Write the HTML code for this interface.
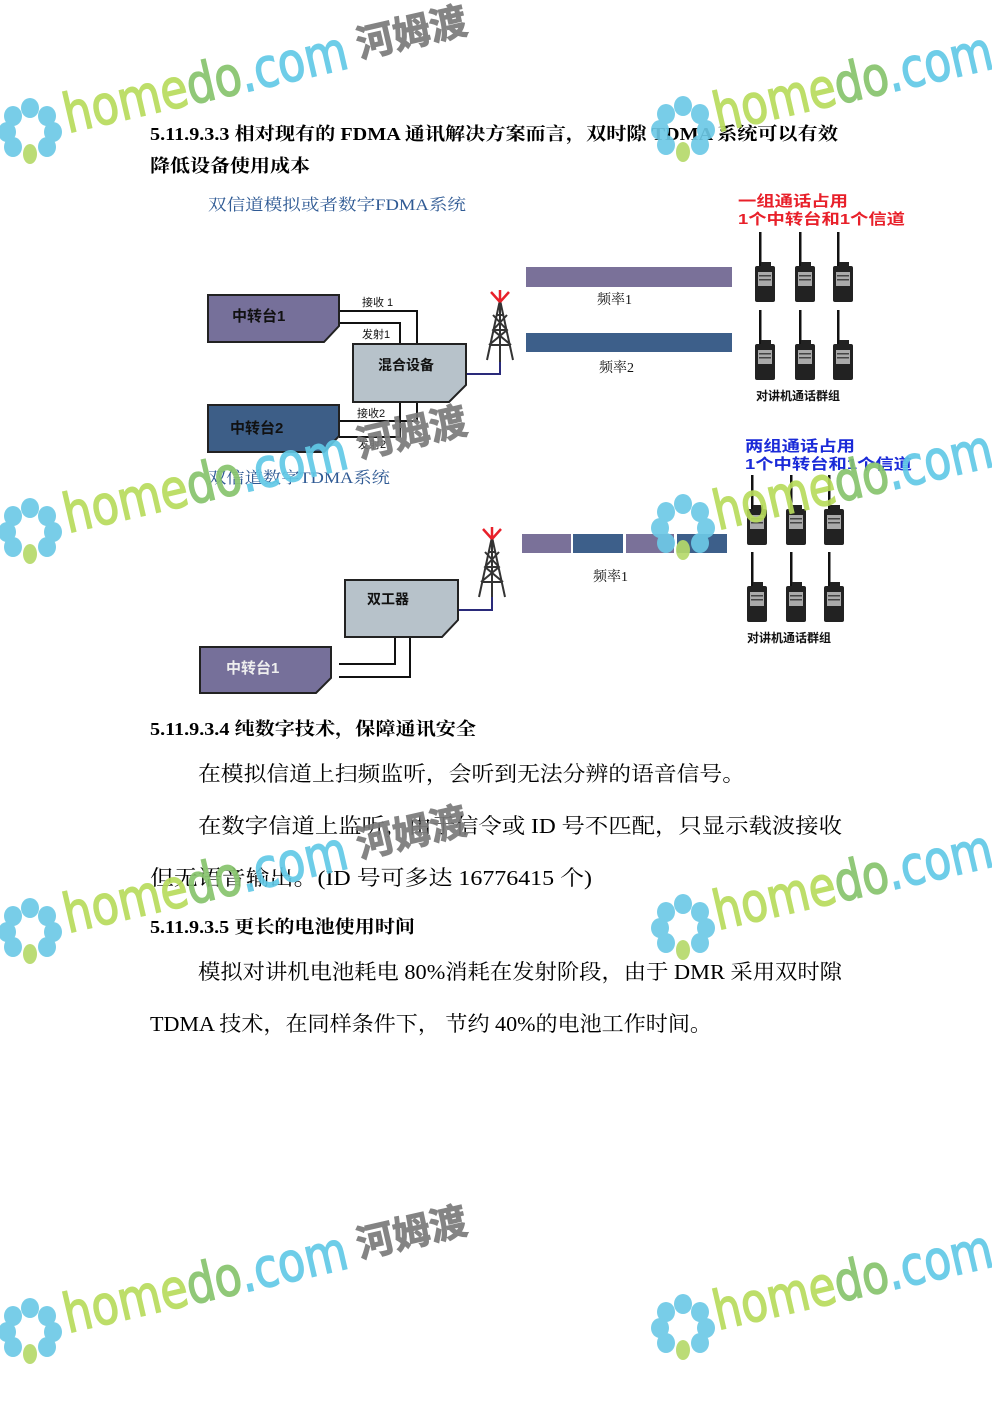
<!DOCTYPE html>
<html><head><meta charset="utf-8"><style>
html,body{margin:0;padding:0;background:#fff;}
svg{display:block;}
.b{font-family:"Liberation Serif","Noto Serif CJK SC",serif;}
.s{font-family:"Liberation Sans","Noto Sans CJK SC",sans-serif;}
</style></head><body>
<svg width="992" height="1403" viewBox="0 0 992 1403" xmlns="http://www.w3.org/2000/svg">
<defs>
<g id="wt">
<rect x="-1" y="0" width="2.5" height="36" fill="#111"/>
<rect x="-5" y="34" width="20" height="36" rx="2" fill="#222"/>
<rect x="1" y="30" width="10" height="6" fill="#222"/>
<rect x="-2" y="40" width="14" height="14" fill="#aaa"/>
<rect x="-1" y="43" width="12" height="1.5" fill="#444"/>
<rect x="-1" y="47" width="12" height="1.5" fill="#444"/>
</g>
<g id="fl">
<ellipse cx="0" cy="-22" rx="9" ry="10" fill="#6cc9e6"/>
<ellipse cx="17" cy="-14" rx="9" ry="10" fill="#6cc9e6"/>
<ellipse cx="23" cy="2" rx="9" ry="10" fill="#6cc9e6"/>
<ellipse cx="17" cy="17" rx="9" ry="10" fill="#6cc9e6"/>
<ellipse cx="-17" cy="-14" rx="9" ry="10" fill="#6cc9e6"/>
<ellipse cx="-23" cy="2" rx="9" ry="10" fill="#6cc9e6"/>
<ellipse cx="-17" cy="17" rx="9" ry="10" fill="#6cc9e6"/>
<ellipse cx="0" cy="24" rx="7" ry="10" fill="#b5d96a"/>
</g>
<g id="wm">
<use href="#fl" x="30" y="130"/>
<g transform="translate(68,133) rotate(-13)">
<text x="0" y="0" font-family="DejaVu Sans,sans-serif" font-size="54" stroke-width="1.5" textLength="290" lengthAdjust="spacingAndGlyphs"><tspan fill="#b8dc5c" stroke="#b8dc5c">home</tspan><tspan fill="#86c36c" stroke="#86c36c">do</tspan><tspan fill="#62c9e6" stroke="#62c9e6">.com</tspan></text>
</g>
</g>
<g id="wm2">
<use href="#fl" x="683" y="128"/>
<g transform="translate(718,132) rotate(-13)">
<text x="0" y="0" font-family="DejaVu Sans,sans-serif" font-size="54" stroke-width="1.5" textLength="285" lengthAdjust="spacingAndGlyphs"><tspan fill="#b8dc5c" stroke="#b8dc5c">home</tspan><tspan fill="#86c36c" stroke="#86c36c">do</tspan><tspan fill="#62c9e6" stroke="#62c9e6">.com</tspan></text>
</g>
</g>
<g id="hm"><g transform="translate(360,58) rotate(-13)"><text font-family="Noto Sans CJK SC,sans-serif" font-weight="bold" font-size="38" fill="#7a7a7a" stroke="#7a7a7a" stroke-width="1" textLength="112" lengthAdjust="spacingAndGlyphs">河姆渡</text></g></g>
</defs>

<g class="b" fill="#000">
<text x="150" y="140" font-size="18" font-weight="bold" textLength="688" lengthAdjust="spacingAndGlyphs">5.11.9.3.3 相对现有的 FDMA 通讯解决方案而言，双时隙 TDMA 系统可以有效</text>
<text x="150" y="172" font-size="18" font-weight="bold" textLength="160" lengthAdjust="spacingAndGlyphs">降低设备使用成本</text>
<text x="150" y="735" font-size="18" font-weight="bold" textLength="326" lengthAdjust="spacingAndGlyphs">5.11.9.3.4 纯数字技术，保障通讯安全</text>
<text x="198" y="781" font-size="21" textLength="547" lengthAdjust="spacingAndGlyphs">在模拟信道上扫频监听，会听到无法分辨的语音信号。</text>
<text x="198" y="833" font-size="21" textLength="644" lengthAdjust="spacingAndGlyphs">在数字信道上监听，由于信令或 ID 号不匹配，只显示载波接收</text>
<text x="150" y="885" font-size="21" textLength="442" lengthAdjust="spacingAndGlyphs">但无语音输出。(ID 号可多达 16776415 个)</text>
<text x="150" y="933" font-size="18" font-weight="bold" textLength="265" lengthAdjust="spacingAndGlyphs">5.11.9.3.5 更长的电池使用时间</text>
<text x="198" y="979" font-size="21" textLength="644" lengthAdjust="spacingAndGlyphs">模拟对讲机电池耗电 80%消耗在发射阶段，由于 DMR 采用双时隙</text>
<text x="150" y="1031" font-size="21" textLength="562" lengthAdjust="spacingAndGlyphs">TDMA 技术，在同样条件下， 节约 40%的电池工作时间。</text>
</g>

<text x="208" y="210" class="b" font-size="16" fill="#2f5a94" textLength="258" lengthAdjust="spacingAndGlyphs">双信道模拟或者数字FDMA系统</text>
<text x="738" y="206" class="s" font-size="15" font-weight="bold" fill="#e8202a" textLength="110" lengthAdjust="spacingAndGlyphs">一组通话占用</text>
<text x="738" y="224" class="s" font-size="15" font-weight="bold" fill="#e8202a" textLength="167" lengthAdjust="spacingAndGlyphs">1个中转台和1个信道</text>

<g fill="none" stroke="#111" stroke-width="2">
<polyline points="339,311 417,311 417,344"/>
<polyline points="339,323 400,323 400,344"/>
<polyline points="339,421 417,421 417,402"/>
<polyline points="339,437 400,437 400,402"/>
<polyline points="339,664 395,664 395,637"/>
<polyline points="339,677 410,677 410,637"/>
</g>
<polyline points="466,374 500,374 500,362" fill="none" stroke="#2a2a7a" stroke-width="2"/>
<polyline points="458,610 492,610 492,597" fill="none" stroke="#2a2a7a" stroke-width="2"/>

<polygon points="208,295 339,295 339,326 324,342 208,342" fill="#76709a" stroke="#222" stroke-width="2"/>
<polygon points="208,405 339,405 339,436 324,452 208,452" fill="#3d5e87" stroke="#222" stroke-width="2"/>
<polygon points="353,344 466,344 466,385 449,402 353,402" fill="#b7c2ca" stroke="#222" stroke-width="2"/>
<polygon points="345,580 458,580 458,620 442,637 345,637" fill="#b7c2ca" stroke="#222" stroke-width="2"/>
<polygon points="200,647 331,647 331,678 316,693 200,693" fill="#76709a" stroke="#222" stroke-width="2"/>

<g class="s" font-weight="bold">
<text x="232" y="321" font-size="15" fill="#111">中转台1</text>
<text x="230" y="433" font-size="15" fill="#111">中转台2</text>
<text x="378" y="370" font-size="14" fill="#111">混合设备</text>
<text x="367" y="604" font-size="14" fill="#111">双工器</text>
<text x="226" y="673" font-size="15" fill="#eee">中转台1</text>
<g font-size="11" fill="#111" font-weight="normal">
<text x="362" y="306">接收 1</text>
<text x="362" y="338">发射1</text>
<text x="357" y="417">接收2</text>
<text x="358" y="448">发射2</text>
</g>
</g>

<g stroke="#333" stroke-width="2" fill="none">
<path d="M500,300 L487,360 M500,300 L513,360 M490,345 L510,345 M493,330 L507,330 M496,315 L504,315 M489,345 L507,330 L493,315 M511,345 L493,330 L507,315 M500,300 L500,362"/>
<path d="M492,537 L479,597 M492,537 L505,597 M482,582 L502,582 M485,567 L499,567 M488,552 L496,552 M481,582 L499,567 L485,552 M503,582 L485,567 L499,552 M492,537 L492,597"/>
</g>
<g stroke="#e8202a" stroke-width="2.5" fill="none">
<path d="M500,302 L500,290 M500,302 L491,292 M500,302 L509,292"/>
<path d="M492,539 L492,527 M492,539 L483,529 M492,539 L501,529"/>
</g>

<rect x="526" y="267" width="206" height="20" fill="#7a7199"/>
<rect x="526" y="333" width="206" height="19" fill="#3d5f8a"/>
<rect x="522" y="534" width="49" height="19" fill="#7a7199"/>
<rect x="573" y="534" width="50" height="19" fill="#3d5f8a"/>
<rect x="626" y="534" width="48" height="19" fill="#7a7199"/>
<rect x="677" y="534" width="50" height="19" fill="#3d5f8a"/>
<g class="b" font-size="14" fill="#111">
<text x="597" y="304">频率1</text>
<text x="599" y="372">频率2</text>
<text x="593" y="581">频率1</text>
</g>

<use href="#wt" x="760" y="232"/><use href="#wt" x="800" y="232"/><use href="#wt" x="838" y="232"/>
<use href="#wt" x="760" y="310"/><use href="#wt" x="800" y="310"/><use href="#wt" x="838" y="310"/>
<use href="#wt" x="752" y="475"/><use href="#wt" x="791" y="475"/><use href="#wt" x="829" y="475"/>
<use href="#wt" x="752" y="552"/><use href="#wt" x="791" y="552"/><use href="#wt" x="829" y="552"/>
<text x="756" y="400" class="s" font-size="12" font-weight="bold" fill="#111">对讲机通话群组</text>
<text x="747" y="642" class="s" font-size="12" font-weight="bold" fill="#111">对讲机通话群组</text>

<text x="208" y="483" class="b" font-size="16" fill="#2f5a94" textLength="182" lengthAdjust="spacingAndGlyphs">双信道数字TDMA系统</text>
<text x="745" y="451" class="s" font-size="15" font-weight="bold" fill="#1a2ad8" textLength="110" lengthAdjust="spacingAndGlyphs">两组通话占用</text>
<text x="745" y="469" class="s" font-size="15" font-weight="bold" fill="#1a2ad8" textLength="167" lengthAdjust="spacingAndGlyphs">1个中转台和1个信道</text>

<g opacity="0.92">
<use href="#wm" x="0" y="0"/><use href="#wm2" x="0" y="0"/><use href="#hm" x="0" y="0"/>
<use href="#wm" x="0" y="400"/><use href="#wm2" x="0" y="398"/><use href="#hm" x="0" y="400"/>
<use href="#wm" x="0" y="800"/><use href="#wm2" x="0" y="798"/><use href="#hm" x="0" y="800"/>
<use href="#wm" x="0" y="1200"/><use href="#wm2" x="0" y="1198"/><use href="#hm" x="0" y="1200"/>
</g>
</svg>
</body></html>
